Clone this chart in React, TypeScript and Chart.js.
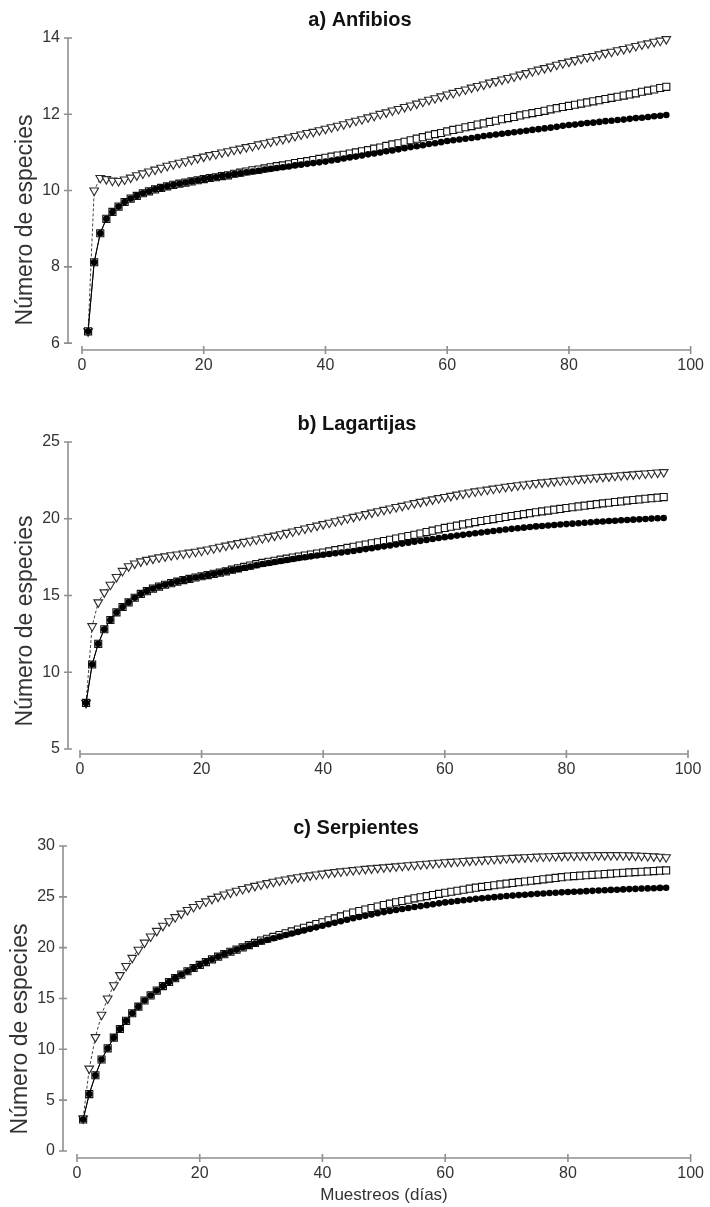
import React, { useEffect, useRef } from "react";
import { Chart, registerables } from "chart.js";

Chart.register(...registerables);

const FONT = "'Liberation Sans', Arial, Helvetica, sans-serif";

// sampling days (x values)
const DAYS: number[] = Array.from({ length: 96 }, (_, i) => i + 1);

const X_TICKS = [0, 20, 40, 60, 80, 100];

// a) Anfibios
const A_Y_TICKS = [6, 8, 10, 12, 14];
const A_OBS = [
  6.31, 8.12, 8.88, 9.26, 9.44, 9.58, 9.70, 9.79, 9.86, 9.93,
  9.98, 10.03, 10.07, 10.11, 10.15, 10.18, 10.21, 10.24, 10.27, 10.30,
  10.33, 10.35, 10.38, 10.40, 10.43, 10.45, 10.48, 10.50, 10.52, 10.55,
  10.57, 10.59, 10.61, 10.63, 10.66, 10.68, 10.70, 10.72, 10.74, 10.76,
  10.79, 10.81, 10.84, 10.87, 10.89, 10.92, 10.95, 10.97, 11.00, 11.03,
  11.05, 11.08, 11.11, 11.14, 11.16, 11.19, 11.22, 11.24, 11.27, 11.30,
  11.32, 11.34, 11.36, 11.38, 11.40, 11.43, 11.45, 11.47, 11.49, 11.51,
  11.53, 11.55, 11.57, 11.59, 11.61, 11.63, 11.65, 11.67, 11.70, 11.72,
  11.73, 11.75, 11.77, 11.78, 11.80, 11.82, 11.83, 11.85, 11.86, 11.88,
  11.90, 11.91, 11.93, 11.95, 11.96, 11.98,
];
const A_SQ = [
  6.31, 8.12, 8.88, 9.26, 9.44, 9.58, 9.70, 9.79, 9.86, 9.93,
  9.98, 10.03, 10.07, 10.11, 10.15, 10.18, 10.21, 10.24, 10.27, 10.30,
  10.33, 10.35, 10.38, 10.40, 10.44, 10.47, 10.50, 10.53, 10.55, 10.58,
  10.61, 10.64, 10.66, 10.69, 10.72, 10.75, 10.77, 10.80, 10.83, 10.86,
  10.89, 10.92, 10.94, 10.97, 11.00, 11.03, 11.06, 11.10, 11.13, 11.17,
  11.21, 11.24, 11.28, 11.32, 11.36, 11.40, 11.44, 11.48, 11.51, 11.55,
  11.59, 11.62, 11.66, 11.69, 11.73, 11.76, 11.80, 11.83, 11.87, 11.90,
  11.93, 11.97, 12.00, 12.03, 12.06, 12.09, 12.13, 12.16, 12.19, 12.22,
  12.25, 12.28, 12.31, 12.34, 12.37, 12.40, 12.43, 12.46, 12.49, 12.52,
  12.55, 12.59, 12.62, 12.65, 12.69, 12.72,
];
const A_TRI = [
  6.31, 10.00, 10.33, 10.30, 10.26, 10.25, 10.29, 10.34, 10.40, 10.45,
  10.50, 10.55, 10.60, 10.65, 10.69, 10.73, 10.77, 10.81, 10.85, 10.89,
  10.93, 10.96, 11.00, 11.03, 11.07, 11.10, 11.14, 11.17, 11.21, 11.24,
  11.28, 11.32, 11.35, 11.39, 11.43, 11.47, 11.51, 11.54, 11.58, 11.62,
  11.66, 11.70, 11.74, 11.79, 11.83, 11.87, 11.92, 11.96, 12.01, 12.05,
  12.10, 12.14, 12.19, 12.23, 12.28, 12.33, 12.38, 12.42, 12.47, 12.52,
  12.56, 12.61, 12.65, 12.70, 12.74, 12.78, 12.83, 12.87, 12.91, 12.95,
  12.99, 13.04, 13.08, 13.13, 13.17, 13.21, 13.25, 13.30, 13.34, 13.38,
  13.42, 13.46, 13.50, 13.53, 13.57, 13.61, 13.64, 13.68, 13.71, 13.75,
  13.79, 13.83, 13.86, 13.90, 13.93, 13.97,
];

// b) Lagartijas
const B_Y_TICKS = [5, 10, 15, 20, 25];
const B_OBS = [
  8.00, 10.50, 11.85, 12.80, 13.40, 13.90, 14.25, 14.55, 14.85, 15.10,
  15.28, 15.45, 15.58, 15.70, 15.80, 15.90, 16.00, 16.08, 16.17, 16.25,
  16.33, 16.41, 16.49, 16.57, 16.65, 16.73, 16.81, 16.89, 16.97, 17.05,
  17.12, 17.18, 17.25, 17.31, 17.38, 17.44, 17.49, 17.55, 17.60, 17.65,
  17.70, 17.75, 17.80, 17.85, 17.90, 17.96, 18.02, 18.08, 18.14, 18.20,
  18.26, 18.32, 18.38, 18.44, 18.50, 18.56, 18.62, 18.68, 18.74, 18.80,
  18.85, 18.90, 18.95, 19.00, 19.05, 19.10, 19.15, 19.20, 19.25, 19.30,
  19.34, 19.38, 19.42, 19.46, 19.50, 19.53, 19.56, 19.59, 19.62, 19.65,
  19.68, 19.71, 19.74, 19.77, 19.80, 19.82, 19.85, 19.87, 19.90, 19.92,
  19.94, 19.96, 19.98, 20.01, 20.03, 20.05,
];
const B_SQ = [
  8.00, 10.50, 11.85, 12.80, 13.40, 13.90, 14.25, 14.55, 14.85, 15.10,
  15.28, 15.45, 15.58, 15.70, 15.80, 15.90, 16.00, 16.08, 16.17, 16.25,
  16.33, 16.41, 16.49, 16.57, 16.68, 16.77, 16.86, 16.95, 17.04, 17.12,
  17.19, 17.26, 17.33, 17.40, 17.47, 17.54, 17.60, 17.67, 17.73, 17.80,
  17.87, 17.95, 18.02, 18.10, 18.17, 18.25, 18.32, 18.40, 18.47, 18.55,
  18.63, 18.71, 18.79, 18.87, 18.95, 19.04, 19.13, 19.22, 19.31, 19.40,
  19.48, 19.55, 19.63, 19.70, 19.78, 19.85, 19.92, 19.98, 20.05, 20.12,
  20.18, 20.24, 20.30, 20.36, 20.42, 20.48, 20.53, 20.59, 20.64, 20.70,
  20.75, 20.80, 20.85, 20.90, 20.95, 21.00, 21.04, 21.09, 21.13, 21.18,
  21.22, 21.26, 21.30, 21.34, 21.37, 21.41,
];
const B_TRI = [
  8.00, 13.00, 14.55, 15.20, 15.70, 16.20, 16.60, 16.90, 17.08, 17.22,
  17.32, 17.40, 17.48, 17.55, 17.62, 17.67, 17.73, 17.79, 17.85, 17.92,
  18.00, 18.08, 18.17, 18.25, 18.33, 18.41, 18.49, 18.57, 18.65, 18.73,
  18.82, 18.90, 18.99, 19.08, 19.17, 19.27, 19.36, 19.46, 19.55, 19.65,
  19.74, 19.84, 19.93, 20.03, 20.12, 20.21, 20.30, 20.40, 20.49, 20.58,
  20.67, 20.76, 20.84, 20.93, 21.02, 21.10, 21.18, 21.26, 21.34, 21.42,
  21.49, 21.57, 21.64, 21.71, 21.78, 21.84, 21.90, 21.96, 22.02, 22.08,
  22.13, 22.18, 22.23, 22.28, 22.33, 22.37, 22.41, 22.45, 22.49, 22.53,
  22.56, 22.60, 22.63, 22.67, 22.70, 22.73, 22.76, 22.80, 22.83, 22.86,
  22.89, 22.92, 22.95, 22.98, 23.01, 23.04,
];

// c) Serpientes
const C_Y_TICKS = [0, 5, 10, 15, 20, 25, 30];
const C_OBS = [
  3.10, 5.60, 7.45, 9.00, 10.10, 11.15, 12.00, 12.80, 13.55, 14.20,
  14.80, 15.30, 15.78, 16.22, 16.62, 17.00, 17.35, 17.68, 18.00, 18.30,
  18.58, 18.85, 19.11, 19.36, 19.60, 19.81, 20.02, 20.22, 20.41, 20.60,
  20.77, 20.93, 21.09, 21.25, 21.40, 21.55, 21.70, 21.85, 22.00, 22.15,
  22.30, 22.45, 22.60, 22.75, 22.90, 23.02, 23.14, 23.26, 23.38, 23.50,
  23.60, 23.70, 23.80, 23.90, 24.00, 24.09, 24.18, 24.27, 24.36, 24.45,
  24.52, 24.59, 24.66, 24.73, 24.80, 24.86, 24.91, 24.97, 25.02, 25.08,
  25.12, 25.17, 25.21, 25.26, 25.30, 25.33, 25.37, 25.40, 25.44, 25.47,
  25.50, 25.53, 25.56, 25.59, 25.62, 25.65, 25.68, 25.70, 25.73, 25.76,
  25.78, 25.81, 25.83, 25.85, 25.88, 25.90,
];
const C_SQ = [
  3.10, 5.60, 7.45, 9.00, 10.10, 11.15, 12.00, 12.80, 13.55, 14.20,
  14.80, 15.30, 15.78, 16.22, 16.62, 17.00, 17.35, 17.68, 18.00, 18.30,
  18.58, 18.85, 19.11, 19.36, 19.60, 19.81, 20.02, 20.25, 20.47, 20.70,
  20.88, 21.06, 21.24, 21.42, 21.60, 21.78, 21.96, 22.14, 22.32, 22.50,
  22.69, 22.88, 23.07, 23.26, 23.45, 23.60, 23.75, 23.90, 24.05, 24.20,
  24.33, 24.46, 24.59, 24.72, 24.85, 24.96, 25.07, 25.18, 25.29, 25.40,
  25.50, 25.60, 25.70, 25.80, 25.90, 25.98, 26.06, 26.14, 26.22, 26.30,
  26.37, 26.44, 26.51, 26.58, 26.65, 26.72, 26.79, 26.86, 26.93, 27.00,
  27.04, 27.08, 27.12, 27.16, 27.20, 27.24, 27.28, 27.32, 27.36, 27.40,
  27.43, 27.47, 27.50, 27.53, 27.57, 27.60,
];
const C_TRI = [
  3.20, 8.10, 11.20, 13.40, 15.00, 16.30, 17.30, 18.20, 19.00, 19.80,
  20.50, 21.10, 21.65, 22.15, 22.60, 23.00, 23.35, 23.70, 24.00, 24.30,
  24.55, 24.80, 25.02, 25.23, 25.42, 25.60, 25.77, 25.93, 26.08, 26.22,
  26.35, 26.48, 26.60, 26.71, 26.82, 26.92, 27.02, 27.11, 27.20, 27.28,
  27.36, 27.43, 27.50, 27.57, 27.63, 27.69, 27.75, 27.80, 27.85, 27.90,
  27.95, 28.00, 28.05, 28.10, 28.15, 28.20, 28.25, 28.30, 28.35, 28.40,
  28.44, 28.48, 28.52, 28.56, 28.60, 28.64, 28.68, 28.72, 28.76, 28.80,
  28.83, 28.86, 28.89, 28.92, 28.95, 28.97, 28.99, 29.01, 29.03, 29.05,
  29.06, 29.07, 29.08, 29.09, 29.10, 29.10, 29.10, 29.10, 29.09, 29.08,
  29.06, 29.04, 29.01, 28.98, 28.94, 28.90,
];

const Y_TITLE = "Número de especies";
const X_TITLE = "Muestreos (días)";

type PanelCfg = {
  title: string;
  top: number;
  height: number;
  obs: number[];
  sq: number[];
  tri: number[];
  yTicks: number[];
  yMin: number;
  yMax: number;
  xMin: number;
  padLeft: number;
  yAxisW: number;
  xAxisH: number;
  padRight: number;
  titlePadTop: number;
  yTitleX: number;
  yTitleY: number;
  xTitle?: { x: number; y: number };
};

const PANELS: PanelCfg[] = [
  {
    title: "a) Anfibios", top: 0, height: 395,
    obs: A_OBS, sq: A_SQ, tri: A_TRI, yTicks: A_Y_TICKS,
    yMin: 5.82, yMax: 14, xMin: -2.3, padLeft: 27, yAxisW: 41, xAxisH: 45, padRight: 17,
    titlePadTop: 8, yTitleX: 26, yTitleY: 220,
  },
  {
    title: "b) Lagartijas", top: 395, height: 405,
    obs: B_OBS, sq: B_SQ, tri: B_TRI, yTicks: B_Y_TICKS,
    yMin: 4.67, yMax: 25, xMin: -1.97, padLeft: 26, yAxisW: 42, xAxisH: 46, padRight: 22,
    titlePadTop: 17, yTitleX: 26, yTitleY: 226,
  },
  {
    title: "c) Serpientes", top: 800, height: 407,
    obs: C_OBS, sq: C_SQ, tri: C_TRI, yTicks: C_Y_TICKS,
    yMin: -0.69, yMax: 30, xMin: -2.28, padLeft: 21, yAxisW: 42, xAxisH: 49, padRight: 19,
    titlePadTop: 16, yTitleX: 21, yTitleY: 229, xTitle: { x: 384, y: 395 },
  },
];

const axesDecor = {
  id: "axesDecor",
  beforeDatasetsDraw(chart: any, _args: any, opts: any) {
    const { ctx, chartArea } = chart;
    const x = chart.scales.x;
    const y = chart.scales.y;
    const yt: number[] = opts.yTicks;
    ctx.save();
    ctx.strokeStyle = "#8f8f8f";
    ctx.lineWidth = 1.6;
    ctx.beginPath();
    const left = chartArea.left;
    ctx.moveTo(left, y.getPixelForValue(yt[yt.length - 1]));
    ctx.lineTo(left, y.getPixelForValue(yt[0]));
    yt.forEach((v) => {
      const p = y.getPixelForValue(v);
      ctx.moveTo(left - 4, p);
      ctx.lineTo(left + 4, p);
    });
    const b = chartArea.bottom;
    ctx.moveTo(x.getPixelForValue(X_TICKS[0]), b);
    ctx.lineTo(x.getPixelForValue(X_TICKS[X_TICKS.length - 1]), b);
    X_TICKS.forEach((v) => {
      const p = x.getPixelForValue(v);
      ctx.moveTo(p, b - 4);
      ctx.lineTo(p, b + 4);
    });
    ctx.stroke();

    ctx.fillStyle = "#333";
    ctx.textAlign = "center";
    ctx.textBaseline = "middle";
    if (opts.xTitle) {
      ctx.font = `17px ${FONT}`;
      ctx.fillText(X_TITLE, opts.xTitle.x, opts.xTitle.y);
    }
    ctx.font = `23px ${FONT}`;
    ctx.translate(opts.yTitleX, opts.yTitleY);
    ctx.rotate(-Math.PI / 2);
    ctx.fillText(Y_TITLE, 0, 0);
    ctx.restore();
  },
};

function Panel({ cfg }: { cfg: PanelCfg }) {
  const ref = useRef<HTMLCanvasElement>(null);
  useEffect(() => {
    const pts = (arr: number[]) => DAYS.map((d, i) => ({ x: d, y: arr[i] }));
    const chart = new Chart(ref.current as HTMLCanvasElement, {
      type: "line",
      data: {
        datasets: [
          {
            label: "Observadas",
            data: pts(cfg.obs),
            borderColor: "#000",
            borderWidth: 1,
            pointStyle: "circle",
            pointRadius: 3.3,
            pointBackgroundColor: "#000",
            pointBorderColor: "#000",
            pointBorderWidth: 0,
            clip: false,
          },
          {
            label: "Estimador 1",
            data: pts(cfg.sq),
            borderColor: "#222",
            borderWidth: 1,
            pointStyle: "rect",
            pointRadius: 5,
            pointBackgroundColor: "#fff",
            pointBorderColor: "#111",
            pointBorderWidth: 1.1,
            clip: false,
          },
          {
            label: "Estimador 2",
            data: pts(cfg.tri),
            borderColor: "#444",
            borderWidth: 1,
            borderDash: [3, 2],
            pointStyle: "triangle",
            pointRotation: 180,
            pointRadius: 5,
            pointBackgroundColor: "#fff",
            pointBorderColor: "#2a2a2a",
            pointBorderWidth: 1.1,
            clip: false,
          },
        ],
      },
      options: {
        animation: false,
        responsive: false,
        devicePixelRatio: 1,
        layout: { padding: { left: cfg.padLeft, right: cfg.padRight, top: 0, bottom: 0 } },
        plugins: {
          legend: { display: false },
          tooltip: { enabled: false },
          title: {
            display: true,
            text: cfg.title,
            color: "#111",
            font: { family: FONT, size: 20, weight: "bold" },
            padding: { top: cfg.titlePadTop, bottom: 6 },
          },
          // @ts-ignore
          axesDecor: {
            yTicks: cfg.yTicks,
            yTitleX: cfg.yTitleX,
            yTitleY: cfg.yTitleY,
            xTitle: cfg.xTitle,
          },
        },
        scales: {
          x: {
            type: "linear",
            min: cfg.xMin,
            max: 100,
            afterBuildTicks: (s: any) => {
              s.ticks = X_TICKS.map((v) => ({ value: v }));
            },
            afterFit: (s: any) => {
              s.height = cfg.xAxisH;
            },
            ticks: {
              autoSkip: false,
              maxRotation: 0,
              padding: 6,
              color: "#333",
              font: { family: FONT, size: 16 },
            },
            grid: { display: false, drawTicks: false },
            border: { display: false },
          },
          y: {
            type: "linear",
            min: cfg.yMin,
            max: cfg.yMax,
            afterBuildTicks: (s: any) => {
              s.ticks = cfg.yTicks.map((v) => ({ value: v }));
            },
            afterFit: (s: any) => {
              s.width = cfg.yAxisW;
            },
            ticks: {
              autoSkip: false,
              padding: 8,
              color: "#333",
              font: { family: FONT, size: 16 },
            },
            grid: { display: false, drawTicks: false },
            border: { display: false },
          },
        },
      },
      plugins: [axesDecor],
    } as any);
    return () => chart.destroy();
  }, [cfg]);
  return (
    <div style={{ position: "absolute", left: 0, top: cfg.top, width: 710, height: cfg.height }}>
      <canvas ref={ref} width={710} height={cfg.height} style={{ display: "block" }} />
    </div>
  );
}

export default function App() {
  return (
    <div
      style={{
        position: "absolute",
        left: 0,
        top: 0,
        width: 710,
        height: 1207,
        background: "#fff",
        overflow: "hidden",
      }}
    >
      {PANELS.map((p) => (
        <Panel key={p.title} cfg={p} />
      ))}
    </div>
  );
}
